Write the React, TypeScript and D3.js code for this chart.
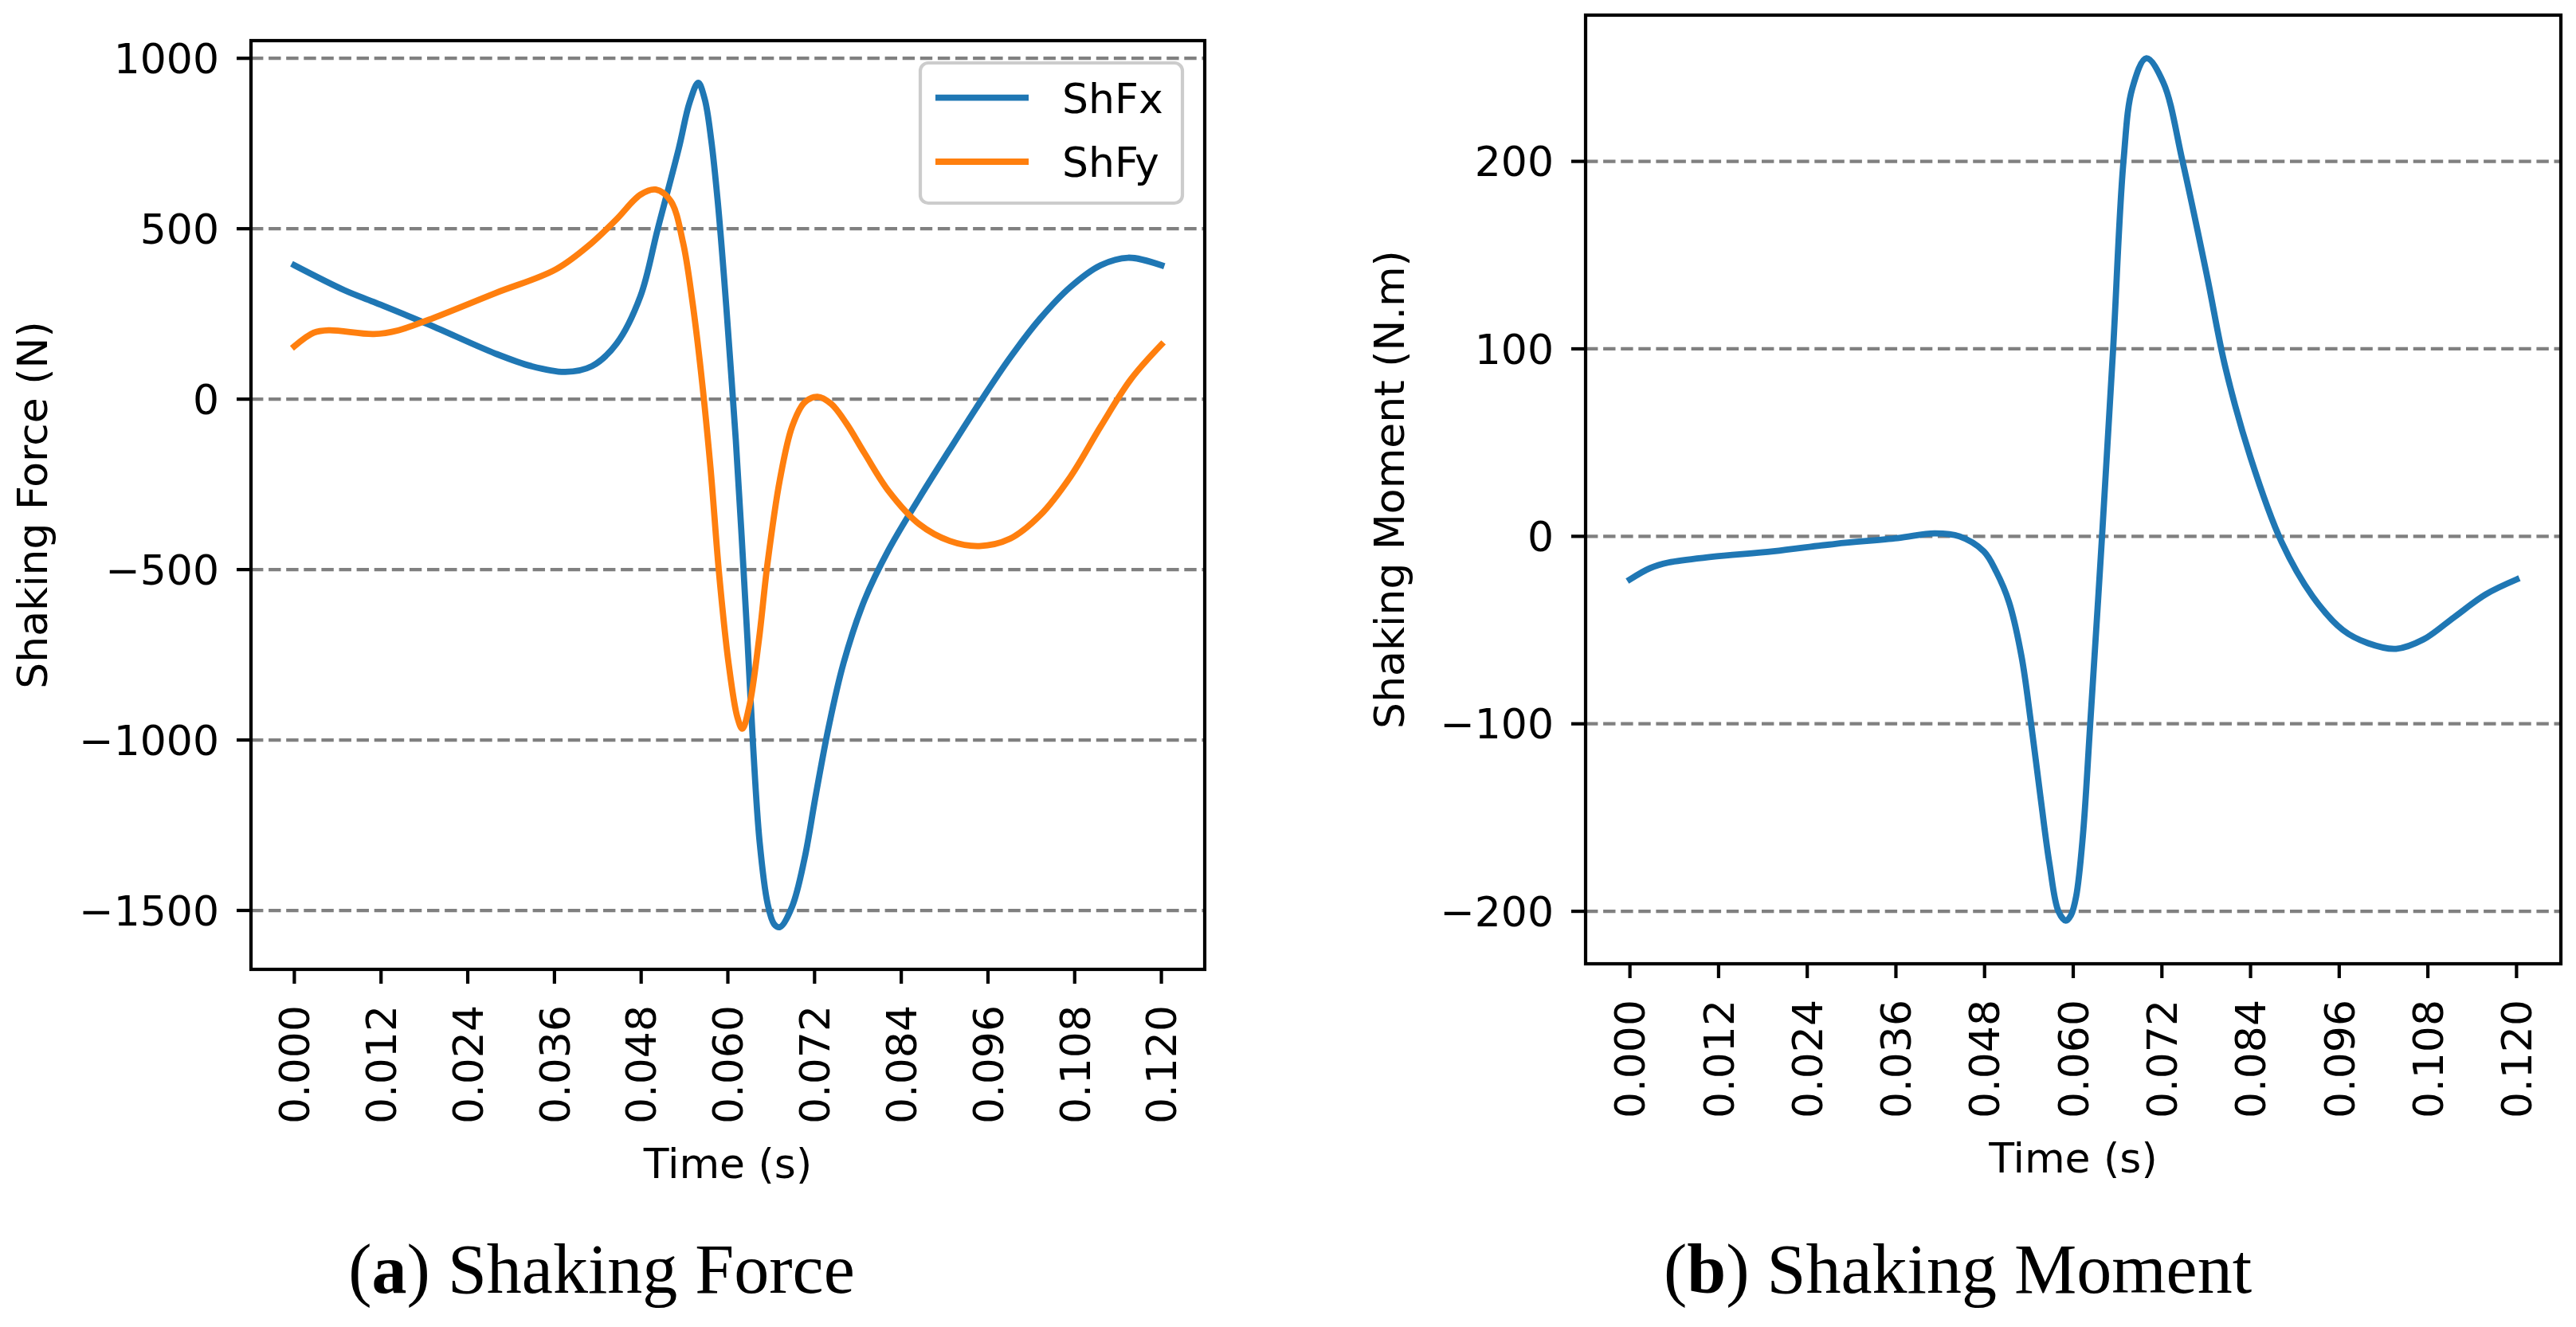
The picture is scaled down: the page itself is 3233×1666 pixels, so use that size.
import React, { useEffect, useRef } from 'react';
import * as d3 from 'd3';

const WIDTH = 3233;
const HEIGHT = 1666;

// (a) shaking force
const shFxTime = [
  0, 0.0069, 0.011, 0.0186, 0.0278, 0.0328, 0.0375, 0.0412, 0.0446, 0.0479, 0.0503, 0.0532,
  0.0547, 0.0559, 0.0568, 0.0577, 0.0586, 0.0595, 0.0603, 0.0611, 0.0619, 0.0627, 0.0635, 0.0644,
  0.0655, 0.0664, 0.0672, 0.0689, 0.0706, 0.0722, 0.0739, 0.076, 0.0789, 0.0823, 0.0865, 0.0907,
  0.0948, 0.099, 0.1032, 0.1074, 0.1116, 0.1154, 0.12,
];
const shFxValues = [
  393, 320, 285, 219, 134, 97, 80, 97, 163, 302, 500, 735, 870, 928, 880, 760, 580, 350, 120, -120,
  -400, -700, -1020, -1300, -1480, -1540, -1549, -1488, -1349, -1158, -967, -775, -590, -440, -290,
  -148, -12, 120, 236, 329, 393, 415, 393,
];

const shFyTime = [
  0, 0.0027, 0.0048, 0.011, 0.0144, 0.0186, 0.0278, 0.0362, 0.0412, 0.0446, 0.0479, 0.05, 0.0521,
  0.0538, 0.0551, 0.0563, 0.0576, 0.0588, 0.0601, 0.0613, 0.062, 0.063, 0.0643, 0.0655, 0.0672,
  0.0689, 0.0706, 0.0724, 0.0743, 0.0764, 0.0789, 0.0823, 0.0865, 0.0907, 0.0948, 0.099, 0.1032,
  0.1074, 0.1116, 0.1158, 0.12,
];
const shFyValues = [
  155, 195, 202, 191, 202, 233, 311, 381, 459, 528, 600, 615, 581, 459, 285, 76, -202, -515, -775,
  -932, -967, -897, -706, -480, -236, -80, -10, 7, -14, -71, -158, -271, -367, -416, -431, -410,
  -341, -228, -80, 59, 160,
];

// (b) shaking moment
const momentTime = [
  0, 0.0027, 0.0052, 0.011, 0.0194, 0.0278, 0.0362, 0.0412, 0.0446, 0.0479, 0.0496, 0.0513,
  0.053, 0.0543, 0.0556, 0.0568, 0.058, 0.059, 0.0597, 0.0604, 0.0613, 0.0623, 0.0639, 0.0654,
  0.0668, 0.068, 0.0699, 0.0722, 0.0748, 0.0781, 0.0806, 0.084, 0.0882, 0.0924, 0.0965, 0.0999,
  0.1037, 0.1074, 0.1116, 0.1158, 0.12,
];
const momentValues = [
  -23, -17, -14, -11, -8, -4, -1, 1.6, 0, -8, -19, -35, -64, -100, -140, -175, -200, -205, -202,
  -192, -160, -100, 0, 100, 200, 239, 255, 242, 200, 139, 90, 42, -3, -32, -50, -57, -60, -55, -43,
  -31, -23,
];

const timeTicks = [0, 0.012, 0.024, 0.036, 0.048, 0.06, 0.072, 0.084, 0.096, 0.108, 0.12];
const forceTicks = [-1500, -1000, -500, 0, 500, 1000];
const momentTicks = [-200, -100, 0, 100, 200];

const BLUE = '#1f77b4';
const ORANGE = '#ff7f0e';
const SANS = '"DejaVu Sans", sans-serif';
const SERIF = '"Liberation Serif", "DejaVu Serif", serif';
const FONT = 52;
const AXIS_LW = 4.2;
const TICK_LEN = 18;

type Series = { name: string; color: string; time: number[]; values: number[] };

type PanelSpec = {
  left: number;
  right: number;
  top: number;
  bottom: number;
  series: Series[];
  yTicks: number[];
  yLabel: string;
  yLabelX: number;
  captionTag: string;
  captionText: string;
  captionX: number;
  legend: boolean;
};

const padded = (values: number[]): [number, number] => {
  const [lo, hi] = d3.extent(values) as [number, number];
  const pad = (hi - lo) * 0.05;
  return [lo - pad, hi + pad];
};

const formatTick = (v: number) => (v < 0 ? `\u2212${Math.abs(v)}` : `${v}`);

const drawPanel = (svg: d3.Selection<SVGSVGElement, unknown, null, undefined>, spec: PanelSpec) => {
  const g = svg.append('g');

  const xScale = d3
    .scaleLinear()
    .domain(padded(spec.series.flatMap(s => s.time)))
    .range([spec.left, spec.right]);
  const yScale = d3
    .scaleLinear()
    .domain(padded(spec.series.flatMap(s => s.values)))
    .range([spec.bottom, spec.top]);

  // dashed horizontal grid
  g.selectAll('.grid')
    .data(spec.yTicks)
    .join('line')
    .attr('x1', spec.left)
    .attr('x2', spec.right)
    .attr('y1', d => yScale(d))
    .attr('y2', d => yScale(d))
    .attr('stroke', '#808080')
    .attr('stroke-width', AXIS_LW)
    .attr('stroke-dasharray', '15.4 6.7');

  const line = d3
    .line<[number, number]>()
    .x(d => xScale(d[0]))
    .y(d => yScale(d[1]))
    .curve(d3.curveCatmullRom.alpha(0.5));

  spec.series.forEach(s => {
    g.append('path')
      .datum(s.time.map((t, i) => [t, s.values[i]] as [number, number]))
      .attr('fill', 'none')
      .attr('stroke', s.color)
      .attr('stroke-width', 7.8)
      .attr('stroke-linejoin', 'round')
      .attr('stroke-linecap', 'square')
      .attr('d', line);
  });

  g.append('rect')
    .attr('x', spec.left)
    .attr('y', spec.top)
    .attr('width', spec.right - spec.left)
    .attr('height', spec.bottom - spec.top)
    .attr('fill', 'none')
    .attr('stroke', '#000')
    .attr('stroke-width', AXIS_LW);

  // y ticks
  g.selectAll('.ytick')
    .data(spec.yTicks)
    .join('line')
    .attr('x1', spec.left - TICK_LEN)
    .attr('x2', spec.left)
    .attr('y1', d => yScale(d))
    .attr('y2', d => yScale(d))
    .attr('stroke', '#000')
    .attr('stroke-width', AXIS_LW);

  g.selectAll('.ylabel')
    .data(spec.yTicks)
    .join('text')
    .attr('x', spec.left - 40)
    .attr('y', d => yScale(d))
    .attr('dy', '0.36em')
    .attr('text-anchor', 'end')
    .attr('font-family', SANS)
    .attr('font-size', FONT)
    .attr('fill', '#000')
    .text(d => formatTick(d));

  // x ticks
  g.selectAll('.xtick')
    .data(timeTicks)
    .join('line')
    .attr('x1', d => xScale(d))
    .attr('x2', d => xScale(d))
    .attr('y1', spec.bottom)
    .attr('y2', spec.bottom + TICK_LEN)
    .attr('stroke', '#000')
    .attr('stroke-width', AXIS_LW);

  g.selectAll('.xlabel')
    .data(timeTicks)
    .join('text')
    .attr('transform', d => `translate(${xScale(d)},${spec.bottom + 45}) rotate(-90)`)
    .attr('dy', '0.36em')
    .attr('text-anchor', 'end')
    .attr('font-family', SANS)
    .attr('font-size', FONT)
    .attr('fill', '#000')
    .text(d => d.toFixed(3));

  g.append('text')
    .attr('x', (spec.left + spec.right) / 2)
    .attr('y', spec.bottom + 262)
    .attr('text-anchor', 'middle')
    .attr('font-family', SANS)
    .attr('font-size', FONT)
    .attr('fill', '#000')
    .text('Time (s)');

  g.append('text')
    .attr('transform', `translate(${spec.yLabelX},${(spec.top + spec.bottom) / 2}) rotate(-90)`)
    .attr('text-anchor', 'middle')
    .attr('font-family', SANS)
    .attr('font-size', FONT)
    .attr('fill', '#000')
    .text(spec.yLabel);

  if (spec.legend) {
    const boxW = 329;
    const boxH = 176;
    const lx = spec.right - 28 - boxW;
    const ly = spec.top + 28;
    const legend = g.append('g').attr('transform', `translate(${lx},${ly})`);
    legend
      .append('rect')
      .attr('width', boxW)
      .attr('height', boxH)
      .attr('rx', 10)
      .attr('fill', '#fff')
      .attr('fill-opacity', 0.8)
      .attr('stroke', '#cccccc')
      .attr('stroke-width', AXIS_LW);
    spec.series.forEach((s, i) => {
      const rowY = 43.6 + i * 80.4;
      legend
        .append('line')
        .attr('x1', 19)
        .attr('x2', 136)
        .attr('y1', rowY)
        .attr('y2', rowY)
        .attr('stroke', s.color)
        .attr('stroke-width', 7.8);
      legend
        .append('text')
        .attr('x', 178)
        .attr('y', rowY + 19)
        .attr('font-family', SANS)
        .attr('font-size', FONT)
        .attr('fill', '#000')
        .text(s.name);
    });
  }

  const caption = g
    .append('text')
    .attr('x', spec.captionX)
    .attr('y', 1623)
    .attr('text-anchor', 'middle')
    .attr('font-family', SERIF)
    .attr('font-size', 88)
    .attr('fill', '#000');
  caption.append('tspan').text('(');
  caption.append('tspan').attr('font-weight', 'bold').text(spec.captionTag);
  caption.append('tspan').text(`) ${spec.captionText}`);
};

const App: React.FC = () => {
  const svgRef = useRef<SVGSVGElement | null>(null);

  useEffect(() => {
    document.body.style.margin = '0';
    if (!svgRef.current) {
      return;
    }
    const svg = d3.select(svgRef.current);
    svg.selectAll('*').remove();

    drawPanel(svg, {
      left: 315,
      right: 1512,
      top: 51,
      bottom: 1217,
      series: [
        { name: 'ShFx', color: BLUE, time: shFxTime, values: shFxValues },
        { name: 'ShFy', color: ORANGE, time: shFyTime, values: shFyValues },
      ],
      yTicks: forceTicks,
      yLabel: 'Shaking Force (N)',
      yLabelX: 59,
      captionTag: 'a',
      captionText: 'Shaking Force',
      captionX: 755,
      legend: true,
    });

    drawPanel(svg, {
      left: 1990,
      right: 3214,
      top: 19,
      bottom: 1210,
      series: [{ name: 'Moment', color: BLUE, time: momentTime, values: momentValues }],
      yTicks: momentTicks,
      yLabel: 'Shaking Moment (N.m)',
      yLabelX: 1762,
      captionTag: 'b',
      captionText: 'Shaking Moment',
      captionX: 2457,
      legend: false,
    });
  }, []);

  return (
    <svg
      ref={svgRef}
      width={WIDTH}
      height={HEIGHT}
      viewBox={`0 0 ${WIDTH} ${HEIGHT}`}
      style={{ display: 'block', background: '#fff' }}
    />
  );
};

export default App;
